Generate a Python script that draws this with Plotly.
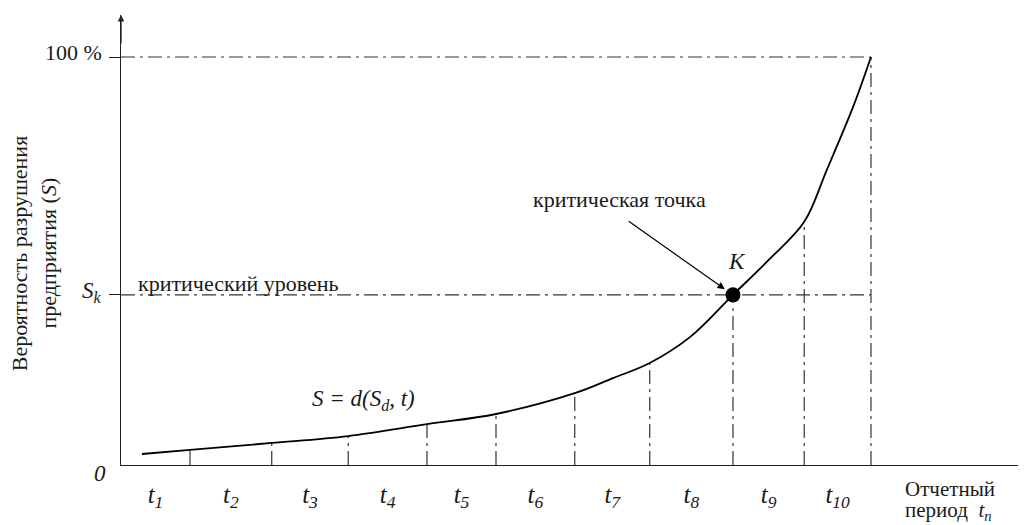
import plotly.graph_objects as go

# ---- data ----
period_labels = ["1", "2", "3", "4", "5", "6", "7", "8", "9", "10"]
period_bounds = [9.2, 20.1, 30.3, 40.8, 50.0, 60.5, 70.5, 81.6, 91.1, 100.0]
bound_S = [3.7, 5.4, 7.1, 10.0, 12.5, 17.6, 25.0, 41.7, 59.6, 100.0]

curve_x = [2.8, 9.2, 20.1, 30.3, 40.8, 50.0, 60.5, 65.6, 70.5, 75.9, 81.6,
           86.5, 91.1, 94.1, 97.6, 100.0]
curve_S = [2.7, 3.7, 5.4, 7.1, 10.0, 12.5, 17.6, 21.3, 25.0, 31.4, 41.7,
           50.5, 59.6, 72.3, 87.7, 100.0]

S_max = 100.0
K_index = 7
S_k = bound_S[K_index]
K_x = period_bounds[K_index]

X_RANGE = [0, 120.67]
Y_RANGE = [0, 110.3]

FONT = "Liberation Serif, Times New Roman, Times, serif"
FS = 22
DASH = "14px,5px,3px,5px"
LINE_COL = "#333333"
AX_COL = "#222222"
TXT_COL = "#1a1a1a"

fig = go.Figure()

# horizontal dash-dot reference lines
for yv in [S_max, S_k]:
    fig.add_trace(go.Scatter(x=[0, period_bounds[-1]], y=[yv, yv], mode="lines",
                             line=dict(color=LINE_COL, width=1.2, dash=DASH),
                             hoverinfo="skip", showlegend=False))

# vertical dash-dot lines at period boundaries
for b, s in zip(period_bounds, bound_S):
    fig.add_trace(go.Scatter(x=[b, b], y=[0, s], mode="lines",
                             line=dict(color=LINE_COL, width=1.2, dash=DASH),
                             hoverinfo="skip", showlegend=False))

# the curve
fig.add_trace(go.Scatter(x=curve_x, y=curve_S, mode="lines",
                         line=dict(color="black", width=1.8, shape="spline", smoothing=1.0),
                         hoverinfo="skip", showlegend=False))

# critical point K
fig.add_trace(go.Scatter(x=[K_x], y=[S_k], mode="markers",
                         marker=dict(color="black", size=15),
                         hoverinfo="skip", showlegend=False))

# x tick labels at period midpoints
starts = [0] + period_bounds[:-1]
mids = [(a + b) / 2 for a, b in zip(starts, period_bounds)]
ticktext = [f"<i>t</i><sub><i>{p}</i></sub>" for p in period_labels]


def to_paper(x, y):
    return ((x - X_RANGE[0]) / (X_RANGE[1] - X_RANGE[0]),
            (y - Y_RANGE[0]) / (Y_RANGE[1] - Y_RANGE[0]))


def ann(text, x, y, size=FS, xanchor="center", yanchor="middle", **kw):
    px, py = to_paper(x, y)
    fig.add_annotation(text=text, x=px, y=py, xref="paper", yref="paper",
                       showarrow=False, xanchor=xanchor, yanchor=yanchor,
                       borderpad=0,
                       font=dict(family=FONT, size=size, color=TXT_COL), **kw)


ann("100 %", -2.4, 101.2, xanchor="right")
ann("<i>S</i><sub><i>k</i></sub>", -2.4, S_k + 0.6, size=23, xanchor="right")
ann("<i>0</i>", -2.8, -2.0, size=23)
ann("критический уровень", 2.2, 44.6, xanchor="left")
ann("критическая точка", 66.5, 65.0)
ann("<i>K</i>", 82.1, 49.8, size=23)
ann("<i>S = d(S<sub>d</sub>, t)</i>", 32.4, 15.9, size=23)
ann("Отчетный", 104.4, -5.9, size=21, xanchor="left")
ann("период  <i>t<sub>n</sub></i>", 104.4, -11.2, size=21, xanchor="left")

# y-axis title (two rotated lines)
ann("Вероятность разрушения", -13.6, 51.9, textangle=-90)
ann("предприятия (<i>S</i>)", -9.7, 51.9, textangle=-90)

# arrow to K
fig.add_annotation(x=80.5, y=43.1, ax=67.5, ay=60.0, xref="x", yref="y",
                   axref="x", ayref="y", text="", showarrow=True,
                   arrowhead=2, arrowsize=1.2, arrowwidth=1.2, arrowcolor="black")

# arrow on y axis
fig.add_annotation(x=0, y=Y_RANGE[1], ax=0, ay=30, xref="x", yref="y",
                   text="", showarrow=True, arrowhead=2, arrowsize=1,
                   arrowwidth=1.3, arrowcolor=AX_COL)

fig.update_layout(
    width=1018, height=517,
    margin=dict(l=113, r=0, t=7, b=60),
    paper_bgcolor="white", plot_bgcolor="white",
    font=dict(family=FONT, size=FS, color=TXT_COL),
    xaxis=dict(range=X_RANGE, showgrid=False, zeroline=False,
               showline=True, linecolor=AX_COL, linewidth=1.3,
               tickmode="array", tickvals=mids, ticktext=ticktext, ticks="",
               ticklabelstandoff=7,
               tickfont=dict(family=FONT, size=25, color=TXT_COL)),
    yaxis=dict(range=Y_RANGE, showgrid=False, zeroline=False,
               showline=True, linecolor=AX_COL, linewidth=1.3,
               tickmode="array", tickvals=[S_k, S_max], ticks="outside",
               ticklen=11, tickwidth=1.3, tickcolor=AX_COL,
               showticklabels=False),
)

fig.write_html("out.html")
